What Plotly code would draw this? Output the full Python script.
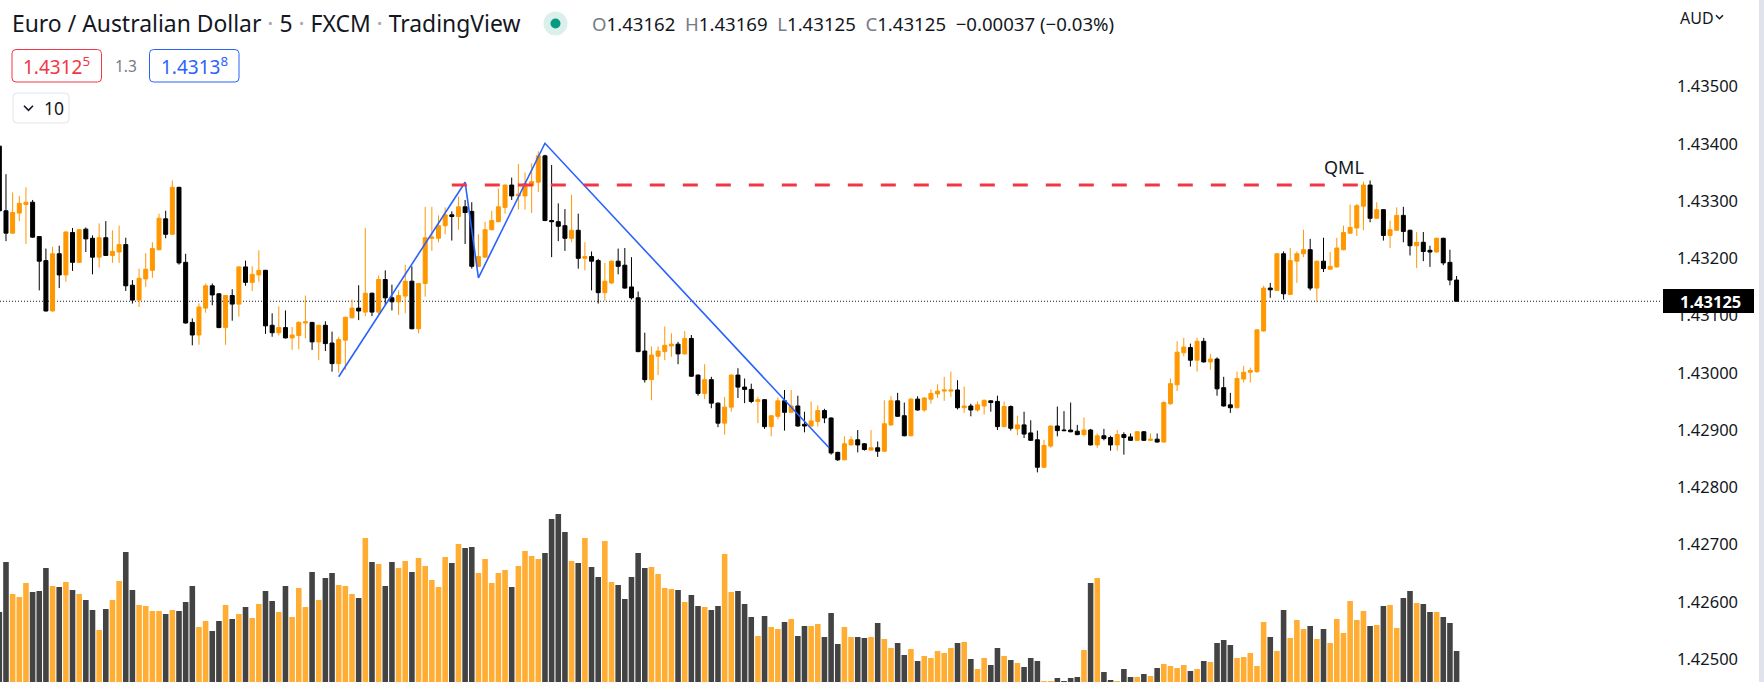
import plotly.graph_objects as go

# ---------------- data ----------------
open_ = [
    1.43396, 1.43283, 1.43244, 1.43279, 1.43294, 1.43298, 1.43238, 1.43196, 1.43108, 1.43208,
    1.43171, 1.43245, 1.43193, 1.43251, 1.43235, 1.43202, 1.43236, 1.43205, 1.43211, 1.43224,
    1.43153, 1.43127, 1.43164, 1.43179, 1.43215, 1.43269, 1.43242, 1.43324, 1.43193, 1.43088,
    1.43066, 1.43113, 1.43152, 1.43138, 1.43079, 1.43135, 1.43120, 1.43185, 1.43158, 1.43171,
    1.43179, 1.43083, 1.43070, 1.43079, 1.43061, 1.43065, 1.43087, 1.43088, 1.43054, 1.43083,
    1.43052, 1.43016, 1.43057, 1.43096, 1.43113, 1.43106, 1.43139, 1.43106, 1.43163, 1.43131,
    1.43124, 1.43134, 1.43160, 1.43077, 1.43156, 1.43235, 1.43235, 1.43257, 1.43276, 1.43273,
    1.43290, 1.43282, 1.43186, 1.43202, 1.43250, 1.43264, 1.43289, 1.43328, 1.43309, 1.43309,
    1.43327, 1.43333, 1.43379, 1.43266, 1.43264, 1.43257, 1.43235, 1.43249, 1.43200, 1.43203,
    1.43196, 1.43140, 1.43157, 1.43195, 1.43188, 1.43150, 1.43131, 1.43038, 1.42988, 1.43029,
    1.43037, 1.43047, 1.43050, 1.43033, 1.43060, 1.42996, 1.42964, 1.42988, 1.42947, 1.42912,
    1.42940, 1.42996, 1.42975, 1.42971, 1.42950, 1.42953, 1.42906, 1.42924, 1.42951, 1.42931,
    1.42942, 1.42910, 1.42907, 1.42915, 1.42934, 1.42921, 1.42861, 1.42848, 1.42874, 1.42883,
    1.42876, 1.42865, 1.42869, 1.42863, 1.42909, 1.42951, 1.42925, 1.42890, 1.42954, 1.42935,
    1.42954, 1.42963, 1.42968, 1.42968, 1.42970, 1.42939, 1.42942, 1.42935, 1.42942, 1.42951,
    1.42950, 1.42906, 1.42941, 1.42902, 1.42909, 1.42895, 1.42883, 1.42835, 1.42872, 1.42907,
    1.42900, 1.42900, 1.42898, 1.42892, 1.42900, 1.42874, 1.42890, 1.42887, 1.42874, 1.42892,
    1.42888, 1.42882, 1.42897, 1.42882, 1.42884, 1.42879, 1.42946, 1.42979, 1.43035, 1.43044,
    1.43022, 1.43055, 1.43019, 1.43024, 1.42974, 1.42944, 1.42939, 1.42989, 1.43001, 1.43002,
    1.43073, 1.43148, 1.43144, 1.43208, 1.43137, 1.43195, 1.43208, 1.43215, 1.43148, 1.43195,
    1.43181, 1.43185, 1.43215, 1.43244, 1.43253, 1.43291, 1.43328, 1.43270, 1.43285, 1.43240,
    1.43249, 1.43275, 1.43249, 1.43222, 1.43228, 1.43214, 1.43211, 1.43235, 1.43193, 1.43162,
]
high = [
    1.43400, 1.43347, 1.43315, 1.43309, 1.43324, 1.43302, 1.43239, 1.43217, 1.43220, 1.43222,
    1.43247, 1.43253, 1.43251, 1.43254, 1.43240, 1.43261, 1.43265, 1.43249, 1.43257, 1.43236,
    1.43162, 1.43182, 1.43209, 1.43228, 1.43278, 1.43283, 1.43336, 1.43325, 1.43208, 1.43095,
    1.43121, 1.43156, 1.43156, 1.43139, 1.43136, 1.43146, 1.43186, 1.43196, 1.43186, 1.43214,
    1.43180, 1.43104, 1.43116, 1.43109, 1.43080, 1.43090, 1.43135, 1.43089, 1.43084, 1.43090,
    1.43072, 1.43063, 1.43098, 1.43128, 1.43153, 1.43253, 1.43140, 1.43170, 1.43179, 1.43154,
    1.43144, 1.43189, 1.43186, 1.43157, 1.43290, 1.43290, 1.43275, 1.43289, 1.43282, 1.43308,
    1.43302, 1.43298, 1.43242, 1.43264, 1.43283, 1.43322, 1.43329, 1.43341, 1.43365, 1.43350,
    1.43366, 1.43387, 1.43381, 1.43363, 1.43296, 1.43286, 1.43311, 1.43278, 1.43228, 1.43212,
    1.43199, 1.43192, 1.43196, 1.43217, 1.43218, 1.43202, 1.43142, 1.43070, 1.43046, 1.43046,
    1.43081, 1.43069, 1.43054, 1.43073, 1.43066, 1.42997, 1.43015, 1.42993, 1.42948, 1.42958,
    1.42997, 1.43008, 1.42990, 1.42981, 1.42958, 1.42954, 1.42926, 1.42957, 1.42970, 1.42970,
    1.42960, 1.42932, 1.42950, 1.42943, 1.42937, 1.42922, 1.42862, 1.42889, 1.42889, 1.42900,
    1.42877, 1.42900, 1.42880, 1.42952, 1.42959, 1.42965, 1.42948, 1.42956, 1.42959, 1.42957,
    1.42971, 1.42980, 1.42993, 1.43002, 1.42987, 1.42976, 1.42946, 1.42950, 1.42953, 1.42952,
    1.42960, 1.42950, 1.42943, 1.42925, 1.42932, 1.42917, 1.42899, 1.42883, 1.42908, 1.42941,
    1.42933, 1.42948, 1.42909, 1.42922, 1.42902, 1.42894, 1.42902, 1.42890, 1.42900, 1.42896,
    1.42894, 1.42898, 1.42898, 1.42894, 1.42894, 1.42950, 1.42990, 1.43055, 1.43061, 1.43051,
    1.43061, 1.43061, 1.43033, 1.43027, 1.42993, 1.42965, 1.43002, 1.43012, 1.43009, 1.43076,
    1.43152, 1.43157, 1.43209, 1.43212, 1.43218, 1.43212, 1.43250, 1.43234, 1.43196, 1.43236,
    1.43211, 1.43236, 1.43257, 1.43294, 1.43295, 1.43334, 1.43336, 1.43298, 1.43286, 1.43266,
    1.43289, 1.43290, 1.43250, 1.43246, 1.43246, 1.43222, 1.43236, 1.43236, 1.43215, 1.43169,
]
low = [
    1.43282, 1.43230, 1.43243, 1.43265, 1.43225, 1.43236, 1.43144, 1.43107, 1.43107, 1.43148,
    1.43159, 1.43178, 1.43192, 1.43211, 1.43172, 1.43184, 1.43204, 1.43192, 1.43192, 1.43143,
    1.43121, 1.43115, 1.43150, 1.43166, 1.43214, 1.43235, 1.43241, 1.43189, 1.43086, 1.43048,
    1.43049, 1.43105, 1.43118, 1.43078, 1.43049, 1.43091, 1.43098, 1.43152, 1.43143, 1.43159,
    1.43068, 1.43063, 1.43065, 1.43060, 1.43040, 1.43041, 1.43060, 1.43040, 1.43022, 1.43038,
    1.43002, 1.43000, 1.43005, 1.43095, 1.43092, 1.43099, 1.43099, 1.43101, 1.43118, 1.43109,
    1.43101, 1.43104, 1.43076, 1.43069, 1.43133, 1.43213, 1.43228, 1.43242, 1.43231, 1.43250,
    1.43225, 1.43182, 1.43185, 1.43201, 1.43249, 1.43263, 1.43278, 1.43302, 1.43285, 1.43285,
    1.43279, 1.43316, 1.43265, 1.43202, 1.43230, 1.43213, 1.43228, 1.43182, 1.43179, 1.43144,
    1.43121, 1.43126, 1.43155, 1.43172, 1.43147, 1.43128, 1.43036, 1.42983, 1.42952, 1.42996,
    1.43022, 1.43028, 1.43015, 1.43032, 1.42993, 1.42960, 1.42954, 1.42938, 1.42905, 1.42892,
    1.42932, 1.42956, 1.42947, 1.42947, 1.42912, 1.42902, 1.42889, 1.42919, 1.42899, 1.42930,
    1.42906, 1.42896, 1.42906, 1.42906, 1.42912, 1.42857, 1.42846, 1.42847, 1.42873, 1.42861,
    1.42864, 1.42864, 1.42853, 1.42862, 1.42907, 1.42923, 1.42889, 1.42889, 1.42934, 1.42932,
    1.42946, 1.42956, 1.42951, 1.42958, 1.42936, 1.42930, 1.42924, 1.42932, 1.42927, 1.42932,
    1.42900, 1.42905, 1.42899, 1.42891, 1.42886, 1.42881, 1.42826, 1.42834, 1.42869, 1.42889,
    1.42898, 1.42896, 1.42891, 1.42889, 1.42873, 1.42869, 1.42882, 1.42864, 1.42864, 1.42857,
    1.42881, 1.42881, 1.42881, 1.42881, 1.42878, 1.42878, 1.42944, 1.42968, 1.43029, 1.43011,
    1.43002, 1.43018, 1.43005, 1.42960, 1.42941, 1.42930, 1.42938, 1.42983, 1.42983, 1.43000,
    1.43072, 1.43131, 1.43143, 1.43128, 1.43136, 1.43157, 1.43202, 1.43144, 1.43124, 1.43176,
    1.43180, 1.43184, 1.43214, 1.43243, 1.43239, 1.43249, 1.43263, 1.43269, 1.43231, 1.43218,
    1.43248, 1.43228, 1.43205, 1.43183, 1.43195, 1.43185, 1.43210, 1.43188, 1.43153, 1.43125,
]
close = [
    1.43283, 1.43244, 1.43280, 1.43296, 1.43298, 1.43237, 1.43195, 1.43108, 1.43208, 1.43171,
    1.43246, 1.43193, 1.43250, 1.43234, 1.43202, 1.43236, 1.43205, 1.43212, 1.43224, 1.43152,
    1.43127, 1.43165, 1.43181, 1.43217, 1.43270, 1.43242, 1.43324, 1.43192, 1.43087, 1.43066,
    1.43115, 1.43152, 1.43136, 1.43079, 1.43135, 1.43120, 1.43185, 1.43158, 1.43172, 1.43179,
    1.43082, 1.43070, 1.43079, 1.43061, 1.43066, 1.43088, 1.43089, 1.43054, 1.43083, 1.43051,
    1.43016, 1.43058, 1.43097, 1.43113, 1.43108, 1.43139, 1.43106, 1.43163, 1.43131, 1.43124,
    1.43135, 1.43160, 1.43077, 1.43156, 1.43236, 1.43237, 1.43257, 1.43276, 1.43273, 1.43290,
    1.43280, 1.43186, 1.43203, 1.43250, 1.43266, 1.43290, 1.43328, 1.43309, 1.43312, 1.43330,
    1.43334, 1.43379, 1.43266, 1.43264, 1.43256, 1.43235, 1.43249, 1.43200, 1.43203, 1.43195,
    1.43140, 1.43160, 1.43195, 1.43186, 1.43148, 1.43131, 1.43037, 1.42988, 1.43031, 1.43038,
    1.43048, 1.43050, 1.43033, 1.43060, 1.42994, 1.42964, 1.42988, 1.42947, 1.42912, 1.42940,
    1.42996, 1.42975, 1.42971, 1.42950, 1.42953, 1.42906, 1.42925, 1.42951, 1.42931, 1.42942,
    1.42907, 1.42907, 1.42916, 1.42934, 1.42921, 1.42860, 1.42848, 1.42876, 1.42883, 1.42874,
    1.42866, 1.42869, 1.42863, 1.42911, 1.42951, 1.42924, 1.42890, 1.42954, 1.42935, 1.42956,
    1.42964, 1.42968, 1.42970, 1.42970, 1.42939, 1.42942, 1.42935, 1.42944, 1.42952, 1.42948,
    1.42906, 1.42941, 1.42903, 1.42909, 1.42893, 1.42882, 1.42835, 1.42873, 1.42907, 1.42899,
    1.42899, 1.42897, 1.42892, 1.42900, 1.42874, 1.42890, 1.42885, 1.42874, 1.42892, 1.42887,
    1.42882, 1.42897, 1.42882, 1.42884, 1.42879, 1.42948, 1.42981, 1.43036, 1.43045, 1.43022,
    1.43055, 1.43019, 1.43024, 1.42972, 1.42942, 1.42939, 1.42990, 1.43001, 1.43004, 1.43075,
    1.43148, 1.43145, 1.43208, 1.43138, 1.43196, 1.43208, 1.43215, 1.43148, 1.43195, 1.43182,
    1.43186, 1.43218, 1.43245, 1.43254, 1.43292, 1.43328, 1.43270, 1.43285, 1.43240, 1.43250,
    1.43275, 1.43247, 1.43222, 1.43228, 1.43212, 1.43211, 1.43235, 1.43192, 1.43162, 1.43125,
]
volume = [
    210, 360, 264, 255, 297, 270, 273, 342, 288, 285,
    300, 276, 264, 246, 216, 156, 219, 246, 303, 390,
    276, 231, 228, 213, 213, 204, 216, 213, 240, 288,
    165, 183, 153, 183, 231, 189, 204, 225, 192, 234,
    273, 243, 210, 288, 195, 282, 225, 330, 246, 312,
    327, 291, 288, 264, 252, 432, 360, 354, 288, 360,
    342, 363, 330, 372, 348, 306, 285, 375, 357, 414,
    402, 405, 327, 369, 297, 327, 336, 285, 348, 393,
    378, 369, 387, 489, 504, 450, 363, 357, 432, 345,
    315, 423, 300, 291, 249, 315, 387, 342, 345, 324,
    282, 279, 276, 240, 261, 228, 225, 216, 228, 384,
    270, 273, 234, 195, 138, 198, 165, 159, 180, 189,
    138, 168, 168, 174, 135, 207, 114, 165, 135, 135,
    132, 135, 177, 129, 102, 117, 81, 99, 63, 78,
    72, 93, 87, 102, 117, 120, 69, 39, 72, 51,
    102, 78, 66, 57, 45, 72, 63, 3, 1, 12,
    3, 12, 15, 96, 297, 312, 30, 6, 3, 39,
    15, 15, 24, 18, 42, 54, 48, 42, 51, 33,
    39, 63, 60, 117, 126, 111, 72, 75, 87, 48,
    180, 135, 93, 216, 132, 186, 159, 168, 129, 159,
    117, 189, 147, 243, 186, 213, 168, 171, 228, 231,
    162, 252, 273, 237, 234, 210, 210, 195, 177, 93,
]
bar_index = list(range(1, len(close) + 1))

# drawings
zigzag_x = [52, 71, 73, 83, 125.7]
zigzag_y = [1.42993, 1.43333, 1.43166, 1.43401, 1.42869]
qml_x = [69, 206]
qml_price = 1.43328
qml_label_x = 203.1
qml_label_y = 1.43359
last_price = 1.43125
price_ticks = [1.425, 1.426, 1.427, 1.428, 1.429, 1.430, 1.431, 1.432, 1.433, 1.434, 1.435]
tick_labels = ["1.42500", "1.42600", "1.42700", "1.42800", "1.42900", "1.43000",
               "1.43100", "1.43200", "1.43300", "1.43400", "1.43500"]

# ---------------- styling ----------------
FIG_W, FIG_H = 1764, 682
PLOT_W = 1662
FONT = "Noto Sans"
TXT = "#131722"
GRAY = "#787b86"
UP = "#ff9800"
DOWN = "#000000"
VOL_UP = "#ffad33"
VOL_DOWN = "#434343"
RED = "#f23645"
BLUE = "#2962ff"

X_RANGE = [1.1, 250.87]
Y_RANGE = [1.424598, 1.436513]
VOL_RANGE = [0, 2046]


def px(x):
    return x / PLOT_W


def py(y):
    return 1 - y / FIG_H


def rrect(x0, y0, x1, y1, r):
    return (f"M {px(x0 + r)},{py(y0)} L {px(x1 - r)},{py(y0)} "
            f"Q {px(x1)},{py(y0)} {px(x1)},{py(y0 + r)} L {px(x1)},{py(y1 - r)} "
            f"Q {px(x1)},{py(y1)} {px(x1 - r)},{py(y1)} L {px(x0 + r)},{py(y1)} "
            f"Q {px(x0)},{py(y1)} {px(x0)},{py(y1 - r)} L {px(x0)},{py(y0 + r)} "
            f"Q {px(x0)},{py(y0)} {px(x0 + r)},{py(y0)} Z")


def chevron(xc, yc, w, h):
    return (f"M {px(xc - w / 2)},{py(yc - h / 2)} L {px(xc)},{py(yc + h / 2)} "
            f"L {px(xc + w / 2)},{py(yc - h / 2)}")


vol_colors = [VOL_UP if c > o else VOL_DOWN for o, c in zip(open_, close)]

fig = go.Figure()
fig.add_trace(go.Bar(
    x=bar_index, y=volume, width=0.84, yaxis="y",
    marker=dict(color=vol_colors, line=dict(width=0)), hoverinfo="skip"))
fig.add_trace(go.Candlestick(
    x=bar_index, open=open_, high=high, low=low, close=close, yaxis="y2",
    increasing=dict(line=dict(color=UP, width=1), fillcolor=UP),
    decreasing=dict(line=dict(color=DOWN, width=1), fillcolor=DOWN),
    whiskerwidth=0, hoverinfo="skip"))
fig.add_trace(go.Scatter(
    x=zigzag_x, y=zigzag_y, yaxis="y2", mode="lines",
    line=dict(color=BLUE, width=1.6), hoverinfo="skip"))
fig.add_trace(go.Scatter(
    x=qml_x, y=[qml_price, qml_price], yaxis="y2", mode="lines",
    line=dict(color=RED, width=3, dash="15px,18px"), hoverinfo="skip"))

shapes = [
    dict(type="line", xref="paper", yref="y2", x0=0, x1=1, y0=last_price, y1=last_price,
         line=dict(color=TXT, width=1, dash="1px,2px"), layer="below"),
    dict(type="rect", xref="paper", yref="paper", x0=px(1663), x1=px(1754),
         y0=py(313), y1=py(289), fillcolor="#000000", line=dict(width=0), layer="above"),
    dict(type="rect", xref="paper", yref="paper", x0=px(1759), x1=px(1764),
         y0=0, y1=1, fillcolor="#e0e3eb", line=dict(width=0), layer="above"),
    dict(type="circle", xref="paper", yref="paper", x0=px(543.5), x1=px(567.5),
         y0=py(35.5), y1=py(11.5), fillcolor="#dcf0eb", line=dict(width=0), layer="above"),
    dict(type="circle", xref="paper", yref="paper", x0=px(550.5), x1=px(560.5),
         y0=py(28.5), y1=py(18.5), fillcolor="#089981", line=dict(width=0), layer="above"),
    dict(type="path", xref="paper", yref="paper", path=rrect(12, 49.5, 101.5, 82, 4),
         fillcolor="white", line=dict(color=RED, width=1), layer="above"),
    dict(type="path", xref="paper", yref="paper", path=rrect(149.5, 49.5, 239, 82, 4),
         fillcolor="white", line=dict(color=BLUE, width=1), layer="above"),
    dict(type="path", xref="paper", yref="paper", path=rrect(13, 93, 69, 123, 4),
         fillcolor="white", line=dict(color="#e0e3eb", width=1), layer="above"),
    dict(type="path", xref="paper", yref="paper", path=chevron(28.5, 108, 9, 4.5),
         line=dict(color=TXT, width=1.6), layer="above"),
    dict(type="path", xref="paper", yref="paper", path=chevron(1719.5, 17, 7, 3.5),
         line=dict(color=TXT, width=1.5), layer="above"),
]

sep = '<span style="color:#a3a6af">·</span>'
lab = lambda s: f'<span style="color:{GRAY}">{s}</span>'
annotations = [
    dict(text=f"Euro / Australian Dollar {sep} 5 {sep} FXCM {sep} TradingView",
         x=px(11), y=py(23.5), xanchor="left", yanchor="middle",
         font=dict(family=FONT, size=22.9, color=TXT)),
    dict(text=(f"{lab('O')}1.43162  {lab('H')}1.43169  {lab('L')}1.43125  "
               f"{lab('C')}1.43125  \u22120.00037 (\u22120.03%)"),
         x=px(591), y=py(23.5), xanchor="left", yanchor="middle",
         font=dict(family=FONT, size=18.6, color=TXT)),
    dict(text="1.4312<sup>5</sup>", x=px(56.8), y=py(66), xanchor="center", yanchor="middle",
         font=dict(family=FONT, size=19, color=RED)),
    dict(text="1.3", x=px(125.5), y=py(66), xanchor="center", yanchor="middle",
         font=dict(family=FONT, size=15.5, color=GRAY)),
    dict(text="1.4313<sup>8</sup>", x=px(194.3), y=py(66), xanchor="center", yanchor="middle",
         font=dict(family=FONT, size=19, color=BLUE)),
    dict(text="10", x=px(42.5), y=py(108.5), xanchor="left", yanchor="middle",
         font=dict(family=FONT, size=17.5, color=TXT)),
    dict(text="AUD", x=px(1679), y=py(18.5), xanchor="left", yanchor="middle",
         font=dict(family=FONT, size=16, color=TXT)),
    dict(text="<b>1.43125</b>", x=px(1679), y=py(301), xanchor="left", yanchor="middle",
         font=dict(family=FONT, size=16.5, color="white")),
    dict(text="QML", xref="x", yref="y2", x=qml_label_x, y=qml_label_y,
         xanchor="center", yanchor="middle", font=dict(family=FONT, size=18, color=TXT)),
]
for a in annotations:
    a.setdefault("xref", "paper")
    a.setdefault("yref", "paper")
    a["showarrow"] = False
    a["borderpad"] = 0

fig.update_layout(
    width=FIG_W, height=FIG_H, autosize=False,
    margin=dict(l=0, r=FIG_W - PLOT_W, t=0, b=0, pad=0),
    paper_bgcolor="white", plot_bgcolor="white",
    showlegend=False, hovermode=False,
    boxgap=0.4, boxgroupgap=0,
    font=dict(family=FONT, color=TXT),
    xaxis=dict(range=X_RANGE, visible=False, showgrid=False, zeroline=False,
               rangeslider=dict(visible=False), fixedrange=True),
    yaxis=dict(range=VOL_RANGE, visible=False, showgrid=False, zeroline=False, fixedrange=True),
    yaxis2=dict(range=Y_RANGE, overlaying="y", side="right", tickvals=price_ticks,
                ticktext=tick_labels, showgrid=False, zeroline=False, showline=False,
                ticks="", ticklabelstandoff=14, automargin=False, fixedrange=True,
                tickfont=dict(family=FONT, size=16.5, color=TXT)),
    shapes=shapes, annotations=annotations,
)

fig.write_html(
    "out.html",
    config={"displayModeBar": False},
    post_script="document.body.style.margin='0';document.body.style.overflow='hidden';",
)
